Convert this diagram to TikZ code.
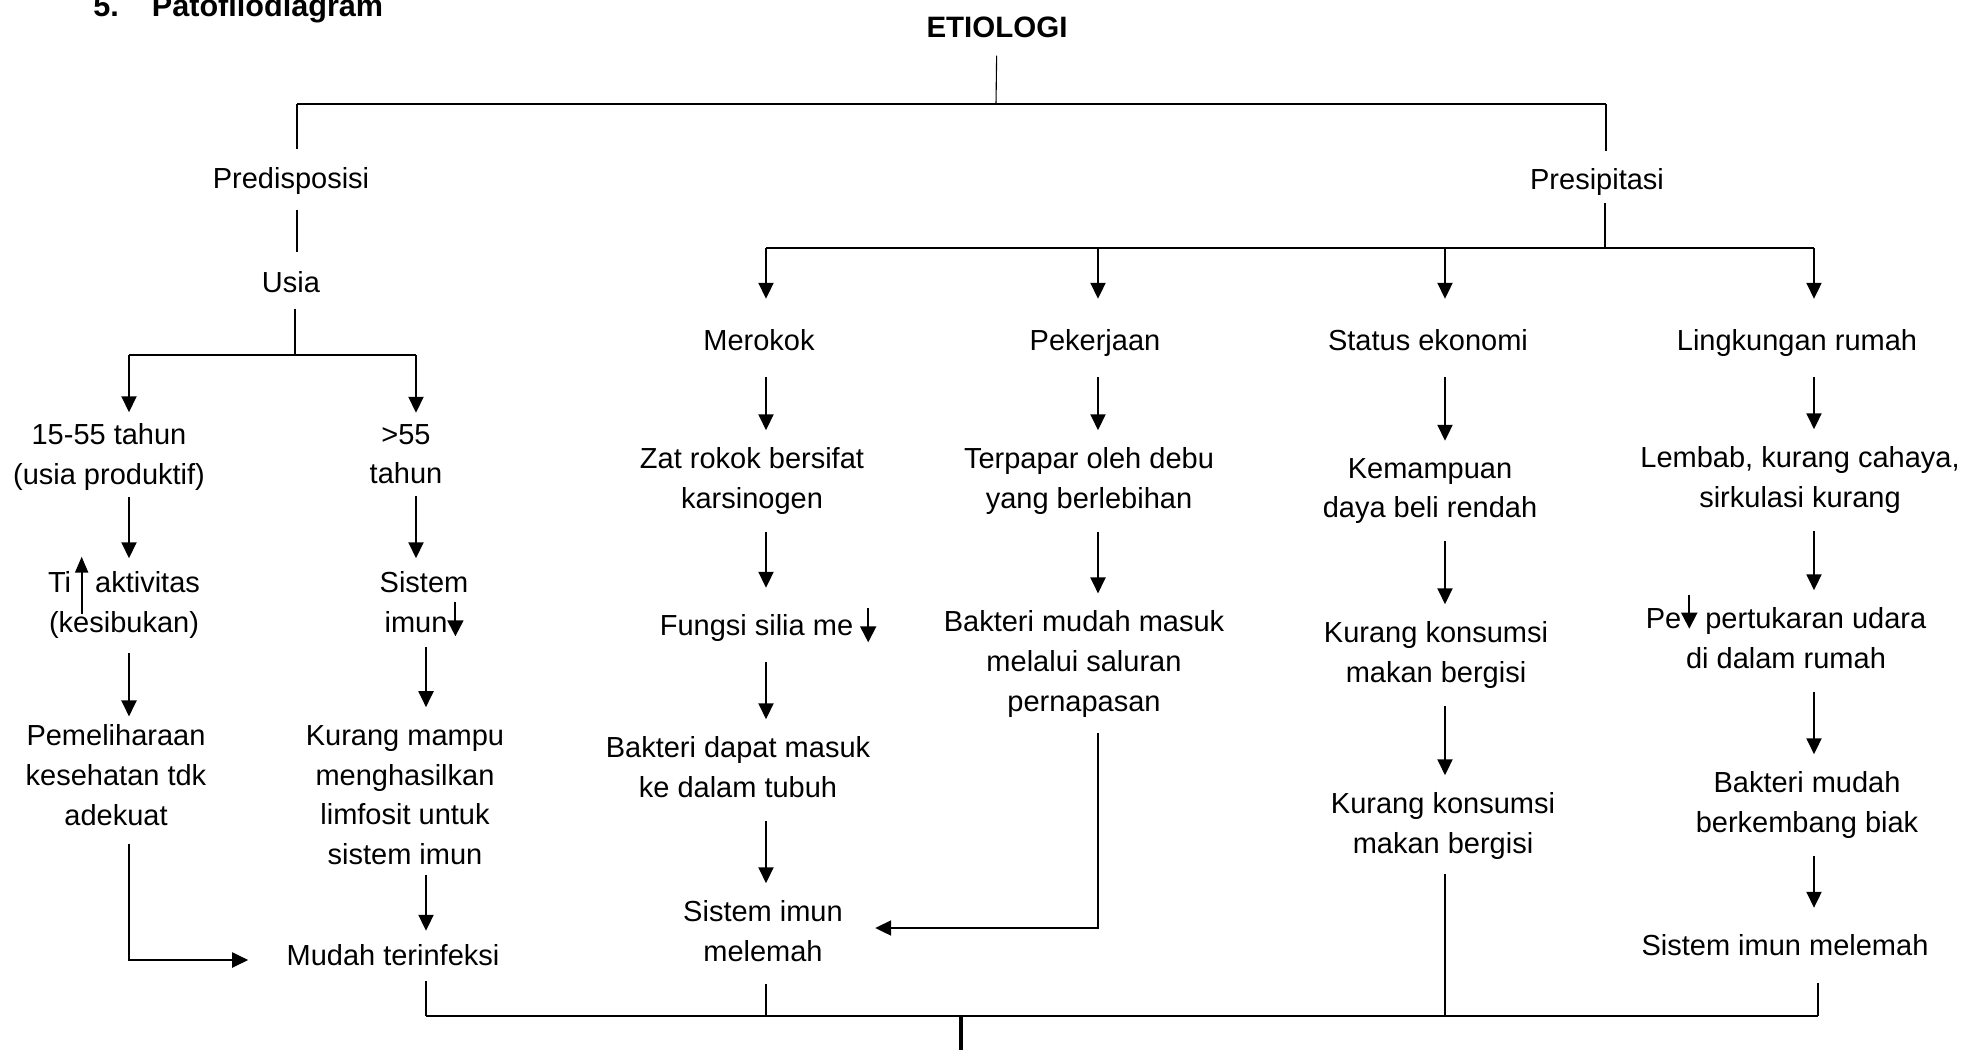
\documentclass[tikz,border=0pt]{standalone}
\usepackage{fontspec}
\setmainfont{Liberation Sans}
\usetikzlibrary{arrows.meta, positioning}

% small arrows that sit inside the text
\newcommand\upmark{\smash{\raisebox{-11pt}{\tikz\draw[line width=1pt,-{Triangle[length=8pt,width=6.5pt]}] (0pt,0pt) -- (0pt,28.5pt);}}}
\newcommand\downmark[1]{\smash{\raisebox{#1}{\tikz\draw[line width=1pt,-{Triangle[length=8pt,width=8pt]}] (0pt,17pt) -- (0pt,0pt);}}}
\newcommand\txtdrop{1.2pt}

\tikzset{
  drop/.code={\def\txtdrop{#1}},
  txt/.style={align=center, inner sep=0pt, font=\fontsize{14.5}{19.8}\selectfont, drop=1.2pt,
    execute at begin node={\rule{0pt}{\dimexpr0.7\baselineskip+\txtdrop\relax}},
    execute at end node={\rule[\dimexpr\txtdrop-0.3\baselineskip\relax]{0pt}{\dimexpr0.3\baselineskip-\txtdrop\relax}}},
  multi/.style={txt, drop=2.9pt},
  head/.style={txt, font=\fontsize{14.75}{19.8}\selectfont\bfseries},
  line/.style={line width=0.55pt},
  bar/.style={line width=0.8pt},
  arrow/.style={line width=1pt, -{Triangle[length=8pt,width=7.5pt]}, shorten <=8.5pt, shorten >=8.5pt},
  droparrow/.style={arrow, shorten <=0pt, shorten >=10.5pt}
}

\begin{document}
\begin{tikzpicture}[x=0.5pt, y=-0.5pt, on grid]
\useasboundingbox (0,0) rectangle (1985,1049);

% Nodes
\node (title) [anchor=base west, inner sep=0pt, font=\fontsize{15.3}{18}\selectfont\bfseries] at (93,17) {5.\hspace{16.5pt}Patofliodiagram};
\node (etio) [head] at (997,27) {ETIOLOGI};

\node (predis) [txt] at (291,178) {Predisposisi};
\node (usia) [txt, below=52pt of predis] {Usia};
\node (age1) [multi, below left=87.5pt and 91pt of usia] {15-55 tahun\\(usia produktif)};
\node (age2) [multi, below right=87.5pt and 57.5pt of usia] {>55\\tahun};
\node (busy) [multi, below=74pt of age1, xshift=7.5pt] {Ti\hspace{2pt}\upmark\hspace{3.5pt}aktivitas\\(kesibukan)};
\node (imun) [multi, below=74pt of age2, xshift=9pt] {Sistem\\imun\downmark{-2.5pt}};
\node (pelihara) [multi, below=86.5pt of busy, xshift=-4pt] {Pemeliharaan\\kesehatan tdk\\adekuat};
\node (limfo) [multi, below=96.5pt of imun, xshift=-9.5pt] {Kurang mampu\\menghasilkan\\limfosit untuk\\sistem imun};
\node (mudah) [txt, below=78.5pt of limfo, xshift=-6pt] {Mudah terinfeksi};

\node (presi) [txt] at (1597,179) {Presipitasi};
\node (rokok) [txt] at (759,340) {Merokok};
\node (kerja) [txt, right=168pt of rokok] {Pekerjaan};
\node (ekon) [txt, right=166.5pt of kerja] {Status ekonomi};
\node (lingk) [txt, right=184.5pt of ekon] {Lingkungan rumah};

\node (zat) [multi, below=70.5pt of rokok, xshift=-3.5pt] {Zat rokok bersifat\\karsinogen};
\node (fungsi) [txt, below=72pt of zat, xshift=8pt] {Fungsi silia me\hspace{3.5pt}\downmark{-4pt}};
\node (bakt1) [multi, below=72.5pt of fungsi, xshift=-15pt] {Bakteri dapat masuk\\ke dalam tubuh};
\node (imun1) [multi, below=82pt of bakt1, xshift=12.5pt] {Sistem imun\\melemah};

\node (debu) [multi, below=70.5pt of kerja, xshift=-3pt] {Terpapar oleh debu\\yang berlebihan};
\node (saluran) [multi, below=91.5pt of debu, xshift=-2.5pt] {Bakteri mudah masuk\\melalui saluran\\pernapasan};

\node (beli) [multi, below=75.5pt of ekon, xshift=1pt] {Kemampuan\\daya beli rendah};
\node (gizi1) [multi, below=82pt of beli, xshift=3pt] {Kurang konsumsi\\makan bergisi};
\node (gizi2) [multi, below=85.5pt of gizi1, xshift=3.5pt] {Kurang konsumsi\\makan bergisi};

\node (lembab) [multi, below=70pt of lingk, xshift=1.5pt] {Lembab, kurang cahaya,\\sirkulasi kurang};
\node (udara) [multi, below=80.5pt of lembab, xshift=-7pt] {Pe\downmark{-0.5pt}\ pertukaran udara\\di dalam rumah};
\node (biak) [multi, below=82pt of udara, xshift=10.5pt] {Bakteri mudah\\berkembang biak};
\node (imun2) [txt, below=70pt of biak, xshift=-11pt] {Sistem imun melemah};

% Junctions
\coordinate (topbar) at (996,104);
\coordinate (tl) at (297,104);
\coordinate (tr) at (1606,104);
\coordinate (agebar) at (295,355);
\coordinate (al) at (129,355);
\coordinate (ar) at (416,355);
\coordinate (presbar) at (1605,248);
\coordinate (pl) at (766,248);
\coordinate (cK) at (1098,248);
\coordinate (cE) at (1445,248);
\coordinate (pr) at (1814,248);
\coordinate (bl) at (426,1016);
\coordinate (br) at (1818,1016);
\coordinate (botbar) at (961,1016);
\coordinate (botend) at (961,1070);

% Top of the tree
\draw [line, shorten <=4.25pt] (etio) -- (topbar);
\draw [bar] (tl) -- (tr);
\draw [line, shorten >=4.5pt] (tl) -- (tl |- predis.north);
\draw [line, shorten >=4pt] (tr) -- (tr |- presi.north);

% Predisposisi
\draw [line, shorten <=6pt, shorten >=5pt] (tl |- predis.south) -- (tl |- usia.north);
\draw [line, shorten <=3.25pt] (agebar |- usia.south) -- (agebar);
\draw [bar] (al) -- (ar);
\draw [arrow, shorten <=0pt, shorten >=5.5pt] (al) -- (al |- age1.north);
\draw [arrow, shorten <=0pt, shorten >=5.5pt] (ar) -- (ar |- age2.north);
\draw [arrow, shorten <=3pt, shorten >=6.5pt] (al |- age1.south) -- (al |- busy.north);
\draw [arrow, shorten <=3pt, shorten >=6.5pt] (ar |- age2.south) -- (ar |- imun.north);
\draw [arrow, shorten <=7pt, shorten >=4pt] (al |- busy.south) -- (al |- pelihara.north);
\draw [arrow, shorten <=4pt, shorten >=9pt] (bl |- imun.south) -- (bl |- limfo.north);
\draw [arrow, shorten <=2pt, shorten >=2pt] (bl |- limfo.south) -- (bl |- mudah.north);
\draw [arrow, shorten <=6pt, shorten >=19pt] (al |- pelihara.south) |- ([yshift=-2.5pt]mudah.west);
\draw [line, shorten <=3pt] (bl |- mudah.south) -- (bl);

% Presipitasi
\draw [line, shorten <=2pt] (presbar |- presi.south) -- (presbar);
\draw [bar] (pl) -- (pr);
\draw [droparrow] (pl) -- (pl |- rokok.north);
\draw [droparrow] (cK) -- (cK |- kerja.north);
\draw [droparrow] (cE) -- (cE |- ekon.north);
\draw [droparrow] (pr) -- (pr |- lingk.north);

\draw [arrow] (pl |- rokok.south) -- (pl |- zat.north);
\draw [arrow] (pl |- zat.south) -- (pl |- fungsi.north);
\draw [arrow] (pl |- fungsi.south) -- (pl |- bakt1.north);
\draw [arrow] (pl |- bakt1.south) -- (pl |- imun1.north);

\draw [arrow] (cK |- kerja.south) -- (cK |- debu.north);
\draw [arrow] (cK |- debu.south) -- (cK |- saluran.north);
\draw [arrow, shorten <=7.5pt, shorten >=16pt] (cK |- saluran.south) |- ([yshift=3pt]imun1.east);

\draw [arrow] (cE |- ekon.south) -- (cE |- beli.north);
\draw [arrow] (cE |- beli.south) -- (cE |- gizi1.north);
\draw [arrow] (cE |- gizi1.south) -- (cE |- gizi2.north);

\draw [arrow] (pr |- lingk.south) -- (pr |- lembab.north);
\draw [arrow] (pr |- lembab.south) -- (pr |- udara.north);
\draw [arrow] (pr |- udara.south) -- (pr |- biak.north);
\draw [arrow] (pr |- biak.south) -- (pr |- imun2.north);

% Bottom
\draw [bar] (bl) -- (br);
\draw [line, shorten <=8pt] (pl |- imun1.south) -- (pl |- botbar);
\draw [line, shorten <=7pt] (cE |- gizi2.south) -- (cE |- botbar);
\draw [line, shorten <=9pt] (br |- imun2.south) -- (br);
\draw [line width=2pt] (botbar) -- (botend);

\end{tikzpicture}
\end{document}
